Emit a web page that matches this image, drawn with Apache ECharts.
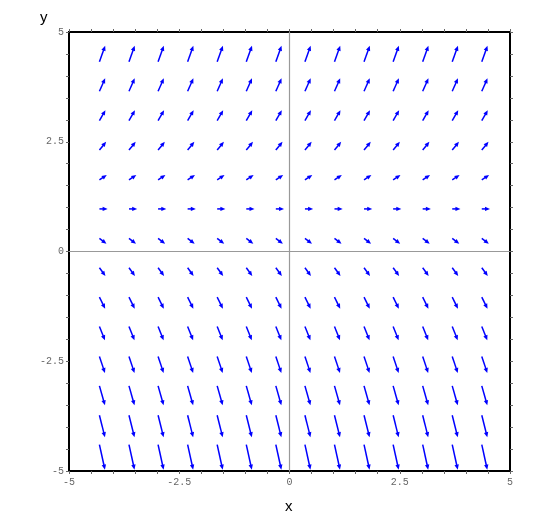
<!DOCTYPE html>
<html>
<head>
<meta charset="utf-8">
<script src="https://cdn.jsdelivr.net/npm/echarts@6/dist/echarts.min.js"></script>
<style>html,body{margin:0;padding:0;background:#fff}#c{width:541px;height:513px}</style>
</head>
<body>
<div id="c"></div>
<script>
// Arrow tail positions (columns / rows)
var colX = [-4.31, -3.64, -2.98, -2.31, -1.64, -0.98, -0.31, 0.35, 1.02, 1.69, 2.35, 3.02, 3.69, 4.36];
var rowY = [4.32, 3.65, 2.98, 2.31, 1.63, 0.97, 0.30, -0.37, -1.04, -1.71, -2.39, -3.06, -3.73, -4.40];
// Arrow vector components per row (same for every column), data units
var rowDx = [0.13, 0.13, 0.136, 0.152, 0.166, 0.186, 0.159, 0.136, 0.13, 0.125, 0.125, 0.125, 0.125, 0.125];
var rowDy = [0.365, 0.296, 0.239, 0.189, 0.114, 0, -0.125, -0.189, -0.262, -0.312, -0.376, -0.444, -0.501, -0.569];
var tickLabels = [-5, -2.5, 0, 2.5, 5];

var arrows = [];
for (var r = 0; r < rowY.length; r++) {
  for (var c = 0; c < colX.length; c++) {
    arrows.push([colX[c], rowY[r], rowDx[r], rowDy[r]]);
  }
}

function fmt(v) {
  for (var i = 0; i < tickLabels.length; i++) {
    if (Math.abs(v - tickLabels[i]) < 1e-6) return String(tickLabels[i]);
  }
  return '';
}

var labelStyle = { fontFamily: 'Liberation Mono', fontSize: 10, color: '#666' };
var tickStyle = { show: true, inside: false, length: 3, lineStyle: { color: '#666', width: 1 } };
var noLine = { show: false, onZero: false };

var chart = echarts.init(document.getElementById('c'), null, { renderer: 'canvas' });
chart.setOption({
  animation: false,
  backgroundColor: '#fff',
  grid: { left: 69, right: 31, top: 32, bottom: 42, show: true, borderColor: '#000', borderWidth: 2, backgroundColor: 'transparent' },
  xAxis: [
    { type: 'value', min: -5, max: 5, interval: 0.5, position: 'bottom',
      axisLine: noLine, splitLine: { show: false }, axisTick: tickStyle,
      axisLabel: Object.assign({ formatter: fmt, margin: 6, showMinLabel: true, showMaxLabel: true }, labelStyle) },
    { type: 'value', min: -5, max: 5, interval: 0.5, position: 'top',
      axisLine: noLine, splitLine: { show: false }, axisTick: tickStyle, axisLabel: { show: false } }
  ],
  yAxis: [
    { type: 'value', min: -5, max: 5, interval: 0.5, position: 'left',
      axisLine: noLine, splitLine: { show: false }, axisTick: tickStyle,
      axisLabel: Object.assign({ formatter: fmt, margin: 5 }, labelStyle) },
    { type: 'value', min: -5, max: 5, interval: 0.5, position: 'right',
      axisLine: noLine, splitLine: { show: false }, axisTick: tickStyle, axisLabel: { show: false } }
  ],
  graphic: [
    { type: 'text', left: 285, top: 499, style: { text: 'x', font: '15px "Liberation Sans"', fill: '#000' } },
    { type: 'text', left: 40, top: 10, style: { text: 'y', font: '15px "Liberation Sans"', fill: '#000' } }
  ],
  series: [
    { type: 'line', data: [[-5, 0], [5, 0]], symbol: 'none', lineStyle: { color: '#999', width: 1.2 }, silent: true, z: 1 },
    { type: 'line', data: [[0, -5], [0, 5]], symbol: 'none', lineStyle: { color: '#999', width: 1.2 }, silent: true, z: 1 },
    {
      type: 'custom', z: 5, data: arrows,
      renderItem: function (params, api) {
        var x = api.value(0), y = api.value(1), dx = api.value(2), dy = api.value(3);
        var p0 = api.coord([x, y]);
        var p1 = api.coord([x + dx, y + dy]);
        var ang = Math.atan2(p1[1] - p0[1], p1[0] - p0[0]);
        var L = 5, W = 2.2;
        var cs = Math.cos(ang), sn = Math.sin(ang);
        var bx = p1[0] - L * cs, by = p1[1] - L * sn;
        return {
          type: 'group',
          children: [
            { type: 'line', shape: { x1: p0[0], y1: p0[1], x2: bx + 1 * cs, y2: by + 1 * sn },
              style: { stroke: '#0000ff', lineWidth: 1.5 } },
            { type: 'polygon', shape: { points: [[p1[0], p1[1]], [bx - W * sn, by + W * cs], [bx + W * sn, by - W * cs]] },
              style: { fill: '#0000ff', stroke: null } }
          ]
        };
      }
    }
  ]
});
</script>
</body>
</html>
